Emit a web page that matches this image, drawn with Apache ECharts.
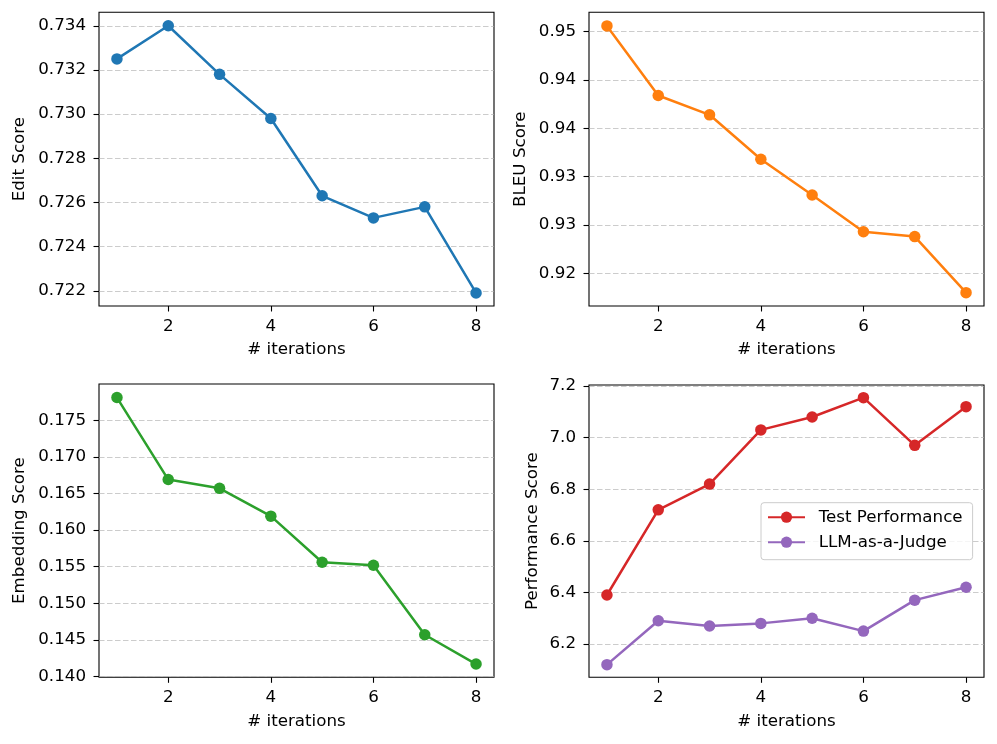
<!DOCTYPE html>
<html>
<head>
<meta charset="utf-8">
<script src="https://cdn.jsdelivr.net/npm/echarts@6/dist/echarts.min.js"></script>
<style>
html,body{margin:0;padding:0;background:#fff;}
#c{width:997px;height:744px;}
</style>
</head>
<body>
<div id="c"></div>
<script>
// ---- data ----
var iterations = [1, 2, 3, 4, 5, 6, 7, 8];
var editScore = [0.7325, 0.7340, 0.7318, 0.7298, 0.7263, 0.7253, 0.7258, 0.7219];
var bleuScore = [0.9506, 0.9434, 0.9414, 0.9368, 0.9331, 0.9293, 0.9288, 0.9230];
var embeddingScore = [0.1781, 0.1669, 0.1657, 0.1619, 0.1556, 0.1552, 0.1457, 0.1417];
var testPerformance = [6.39, 6.72, 6.82, 7.03, 7.08, 7.155, 6.97, 7.12];
var llmJudge = [6.12, 6.29, 6.27, 6.28, 6.30, 6.25, 6.37, 6.42];

var xTicks = [2, 4, 6, 8];
var editTicks = [0.722, 0.724, 0.726, 0.728, 0.730, 0.732, 0.734];
var bleuTicks = [0.925, 0.930, 0.935, 0.940, 0.945, 0.950];
var bleuTickLabels = ['0.92', '0.93', '0.93', '0.94', '0.94', '0.95'];
var embeddingTicks = [0.140, 0.145, 0.150, 0.155, 0.160, 0.165, 0.170, 0.175];
var perfTicks = [6.2, 6.4, 6.6, 6.8, 7.0, 7.2];

var FONT = 'DejaVu Sans';
var FS = 16.7;

function pairs(vals) {
  return iterations.map(function (x, i) { return [x, vals[i]]; });
}

var grids = [
  {left: 99, top: 12.3, width: 395, height: 293.7},
  {left: 589, top: 12.3, width: 395, height: 293.7},
  {left: 99, top: 384, width: 395, height: 293.3},
  {left: 589, top: 385, width: 395, height: 292.3}
].map(function (g) {
  return Object.assign({show: true, borderColor: '#000', borderWidth: 1.1, backgroundColor: 'transparent', containLabel: false}, g);
});

var xAxes = grids.map(function (g, i) {
  return {
    type: 'value', gridIndex: i, min: 0.65, max: 8.35,
    name: '# iterations', nameLocation: 'middle', nameGap: 35.5,
    nameMoveOverlap: false,
    nameTextStyle: {fontFamily: FONT, fontSize: FS, color: '#000'},
    axisLine: {show: false},
    axisTick: {show: true, inside: false, length: 5.5, lineStyle: {color: '#000', width: 1.1}, customValues: xTicks},
    axisLabel: {fontFamily: FONT, fontSize: FS, color: '#000', margin: 12, customValues: xTicks},
    splitLine: {show: false}
  };
});

function yAxis(i, name, gap, min, max, ticks, fmt) {
  return {
    type: 'value', gridIndex: i, min: min, max: max,
    name: name, nameLocation: 'middle', nameGap: gap, nameRotate: 90,
    nameMoveOverlap: false,
    nameTextStyle: {fontFamily: FONT, fontSize: FS, color: '#000'},
    axisLine: {show: false},
    axisTick: {show: true, inside: false, length: 5.5, lineStyle: {color: '#000', width: 1.1}, customValues: ticks},
    axisLabel: {fontFamily: FONT, fontSize: FS, color: '#000', margin: 13, customValues: ticks, formatter: fmt},
    splitLine: {show: true, lineStyle: {color: '#b0b0b0', opacity: 0.65, width: 1.1, type: [5.5, 2.5]}}
  };
}

var yAxes = [
  yAxis(0, 'Edit Score', 70.5, 0.72131, 0.73461, editTicks, function (v) { return v.toFixed(3); }),
  yAxis(1, 'BLEU Score', 60, 0.921617, 0.952007, bleuTicks, function (v) {
    var k = Math.round((v - bleuTicks[0]) / 0.005);
    return bleuTickLabels[k] !== undefined ? bleuTickLabels[k] : '';
  }),
  yAxis(2, 'Embedding Score', 70.5, 0.13989, 0.17995, embeddingTicks, function (v) { return v.toFixed(3); }),
  yAxis(3, 'Performance Score', 48.3, 6.071, 7.204, perfTicks, function (v) { return v.toFixed(1); })
];

function lineSeries(name, idx, vals, color) {
  return {
    name: name, type: 'line', xAxisIndex: idx, yAxisIndex: idx,
    data: pairs(vals),
    symbol: 'circle', symbolSize: 11.5, showSymbol: true,
    lineStyle: {color: color, width: 2.5},
    itemStyle: {color: color},
    emphasis: {disabled: true},
    animation: false,
    z: 3
  };
}

var series = [
  lineSeries('Edit Score', 0, editScore, '#1f77b4'),
  lineSeries('BLEU Score', 1, bleuScore, '#ff7f0e'),
  lineSeries('Embedding Score', 2, embeddingScore, '#2ca02c'),
  lineSeries('Test Performance', 3, testPerformance, '#d62728'),
  lineSeries('LLM-as-a-Judge', 3, llmJudge, '#9467bd')
];

var chart = echarts.init(document.getElementById('c'), null, {renderer: 'canvas'});
chart.setOption({
  animation: false,
  backgroundColor: '#fff',
  grid: grids,
  xAxis: xAxes,
  yAxis: yAxes,
  legend: {
    data: ['Test Performance', 'LLM-as-a-Judge'],
    orient: 'vertical',
    left: 761, top: 502.7,
    itemWidth: 37, itemHeight: 14, itemGap: 8,
    padding: [6, 10, 9, 6],
    backgroundColor: 'rgba(255,255,255,0.8)',
    borderColor: '#cccccc', borderWidth: 1, borderRadius: 3,
    textStyle: {fontFamily: FONT, fontSize: FS, color: '#000', lineHeight: 14, padding: [0, 0, 0, 8.7]},
    selectedMode: false
  },
  series: series
});
</script>
</body>
</html>
